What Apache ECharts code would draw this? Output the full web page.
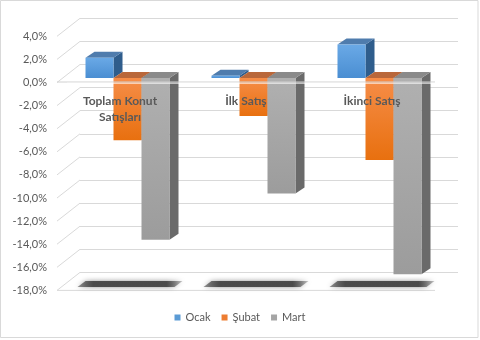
<!DOCTYPE html>
<html><head><meta charset="utf-8">
<script src="https://cdn.jsdelivr.net/npm/echarts@6/dist/echarts.min.js"></script>
<style>html,body{margin:0;padding:0;background:#fff}#c{width:480px;height:340px}</style>
</head><body><div id="c"></div>
<script>
const categories = ['Toplam Konut\nSatışları', 'İlk Satış', 'İkinci Satış'];
const seriesNames = ['Ocak', 'Şubat', 'Mart'];
const ocak = [1.75, 0.2, 2.9];
const subat = [-5.4, -3.3, -7.1];
const mart = [-14.0, -10.0, -17.0];
const yTicks = [4, 2, 0, -2, -4, -6, -8, -10, -12, -14, -16, -18];
const yMin = -18, yMax = 4, yStep = 2;

const FONT = 'Lato, "Liberation Sans", sans-serif';
const TXT = '#595959';
const GRID = '#d9d9d9';
const DX = 9, DY = -6;          // bar depth
const WX = 23, WY = -18;        // wall depth
const palettes = [
  {front: ['#6aa9e6', '#4a8ed2'], top: '#4f7cad', side: '#2f5d8c', legend: '#5b9bd5'},
  {front: ['#f68d48', '#e8700f'], top: '#b9673a', side: '#a8521c', legend: '#ed7d31'},
  {front: ['#b0b0b0', '#9c9c9c'], top: '#8a8a8a', side: '#6a6a6a', legend: '#a5a5a5'}
];
const H = 254.1;

function barRender(s) {
  return function (params, api) {
    const i = api.value(0), v = api.value(1);
    const c = api.coord([i, v]), z = api.coord([i, 0]);
    const band = api.size([1, 0])[0];
    const bw = band * 2 / 9;
    const x0 = c[0] - 1.5 * bw + s * bw, x1 = x0 + bw;
    const yt = Math.min(c[1], z[1]), yb = Math.max(c[1], z[1]);
    const p = palettes[s];
    return {type: 'group', children: [
      {type: 'polygon', shape: {points: [[x1, yt], [x1 + DX, yt + DY], [x1 + DX, yb + DY], [x1, yb]]}, style: {fill: p.side}},
      {type: 'polygon', shape: {points: [[x0, yt], [x1, yt], [x1 + DX, yt + DY], [x0 + DX, yt + DY]]}, style: {fill: p.top}},
      {type: 'rect', shape: {x: x0, y: yt, width: bw, height: yb - yt},
        style: {fill: new echarts.graphic.LinearGradient(0, 0, 0, 1, [{offset: 0, color: p.front[0]}, {offset: 1, color: p.front[1]}])}}
    ]};
  };
}

const vals = [ocak, subat, mart];
const barSeries = vals.map((arr, s) => ({
  type: 'custom', name: seriesNames[s], xAxisIndex: 2, yAxisIndex: 2, z: 5,
  itemStyle: {color: palettes[s].legend},
  renderItem: barRender(s),
  data: arr.map((v, i) => [i, v])
}));

const option = {
  animation: false,
  backgroundColor: '#fff',
  textStyle: {fontFamily: FONT},
  graphic: [{type: 'rect', shape: {x: 0.5, y: 0.5, width: 477.5, height: 337}, style: {fill: 'none', stroke: GRID, lineWidth: 1}, z: 0}],
  legend: {
    data: seriesNames, bottom: 12, left: 'center', icon: 'rect', itemWidth: 6, itemHeight: 6, itemGap: 11,
    textStyle: {fontSize: 11, color: TXT, fontFamily: FONT}
  },
  grid: [
    {left: 57, width: 378, top: 36.3, height: H},      // front plane
    {left: 80, width: 378, top: 18.3, height: H},      // back wall
    {left: 64.5, width: 378, top: 31.8, height: H}     // bar plane
  ],
  xAxis: [0, 1, 2].map(g => ({type: 'category', gridIndex: g, data: categories, show: false})),
  yAxis: [
    {type: 'value', gridIndex: 0, min: yMin, max: yMax, interval: yStep,
      axisLine: {show: false}, axisTick: {show: false}, splitLine: {show: false},
      axisLabel: {margin: 10, fontSize: 11, color: TXT, fontFamily: FONT,
        formatter: v => v.toFixed(1).replace('.', ',') + '%'}},
    {type: 'value', gridIndex: 1, min: yMin, max: yMax, interval: yStep,
      axisLine: {show: false}, axisTick: {show: false}, axisLabel: {show: false},
      splitLine: {show: true, lineStyle: {color: GRID, width: 1}}},
    {type: 'value', gridIndex: 2, min: yMin, max: yMax, interval: yStep, show: false}
  ],
  series: [
    // left wall slanted lines
    {type: 'custom', xAxisIndex: 0, yAxisIndex: 0, z: 1, silent: true,
      data: yTicks.map(v => [0, v]),
      renderItem: (params, api) => {
        const p = api.coord([0, api.value(1)]);
        const band = api.size([1, 0])[0];
        const lx = p[0] - band / 2;
        return {type: 'line', shape: {x1: lx, y1: p[1], x2: lx + WX, y2: p[1] + WY}, style: {stroke: GRID, lineWidth: 1}};
      }},
    // floor front edge
    {type: 'custom', xAxisIndex: 0, yAxisIndex: 0, z: 1, silent: true,
      data: [[0, yMin]],
      renderItem: (params, api) => {
        const p = api.coord([0, api.value(1)]);
        const band = api.size([1, 0])[0];
        const lx = p[0] - band / 2;
        return {type: 'line', shape: {x1: lx, y1: p[1], x2: lx + band * categories.length, y2: p[1]}, style: {stroke: GRID, lineWidth: 1}};
      }},
    // floor shadows
    {type: 'custom', xAxisIndex: 2, yAxisIndex: 2, z: 2, silent: true,
      data: categories.map((c, i) => [i, yMin]),
      renderItem: (params, api) => {
        const p = api.coord([api.value(0), api.value(1)]);
        const cx = p[0], y = p[1];
        return {type: 'polygon', shape: {points: [[cx - 50, y + 1], [cx - 42, y - 5], [cx + 55, y - 5], [cx + 47, y + 1]]},
          style: {fill: new echarts.graphic.LinearGradient(0, 0, 1, 0, [
            {offset: 0, color: 'rgba(70,70,70,0.55)'}, {offset: 0.15, color: 'rgba(70,70,70,0.95)'},
            {offset: 0.85, color: 'rgba(70,70,70,0.95)'}, {offset: 1, color: 'rgba(70,70,70,0.3)'}]),
            shadowBlur: 5, shadowColor: 'rgba(0,0,0,0.45)'}};
      }},
    ...barSeries,
    // zero front edge line over bars
    {type: 'custom', xAxisIndex: 0, yAxisIndex: 0, z: 8, silent: true,
      data: [[0, 0]],
      renderItem: (params, api) => {
        const p = api.coord([0, api.value(1)]);
        const band = api.size([1, 0])[0];
        const lx = p[0] - band / 2, rx = lx + band * categories.length;
        return {type: 'group', children: [
          {type: 'line', shape: {x1: lx, y1: p[1] - 0.5, x2: rx, y2: p[1] - 0.5}, style: {stroke: '#d0d0d0', lineWidth: 1}},
          {type: 'line', shape: {x1: lx + 10, y1: p[1] + 0.7, x2: rx, y2: p[1] + 0.7}, style: {stroke: 'rgba(255,255,255,0.85)', lineWidth: 1}}
        ]};
      }},
    // category labels
    {type: 'custom', xAxisIndex: 0, yAxisIndex: 0, z: 9, silent: true,
      data: categories.map((c, i) => [i, 0]),
      renderItem: (params, api) => {
        const p = api.coord([api.value(0), 0]);
        return {type: 'text', x: p[0], y: p[1] + 10.5,
          style: {text: categories[params.dataIndex], fill: TXT, font: 'bold 12px ' + FONT, align: 'center', verticalAlign: 'top', lineHeight: 16}};
      }}
  ]
};
const chart = echarts.init(document.getElementById('c'), null, {renderer: 'canvas'});
chart.setOption(option);
</script></body></html>
